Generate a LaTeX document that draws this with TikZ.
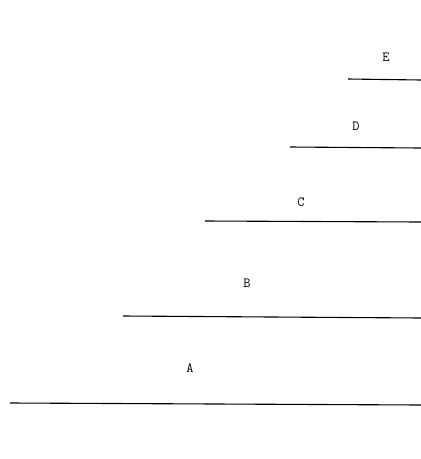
\documentclass[tikz,border=0pt]{standalone}
\usepackage{tikz}
\def\xRight{421}
\tikzset{
  stline/.style={line width=1.1pt},
  stlbl/.style={font=\fontsize{14}{14}\selectfont\ttfamily, inner sep=0pt},
}
\newcommand{\stlevel}[7]{%
  \coordinate (#1L) at (#2,#3);
  \coordinate (#1R) at (\xRight,#4);
  \draw[stline] (#1L) -- (#1R);
  \node[stlbl] (#1) at (#5,#6) {#7};}

\begin{document}
\begin{tikzpicture}[x=1pt, y=-1pt]
  \useasboundingbox (0,0) rectangle (421,459);

  \stlevel{lvE}{348}{79}{80}{386}{57}{E}
  \stlevel{lvD}{290}{147}{148}{356}{126}{D}
  \stlevel{lvC}{205}{221}{222}{301}{202}{C}
  \stlevel{lvB}{123}{316}{318}{247}{283}{B}
  \stlevel{lvA}{10}{403}{405}{190}{368}{A}
\end{tikzpicture}
\end{document}
